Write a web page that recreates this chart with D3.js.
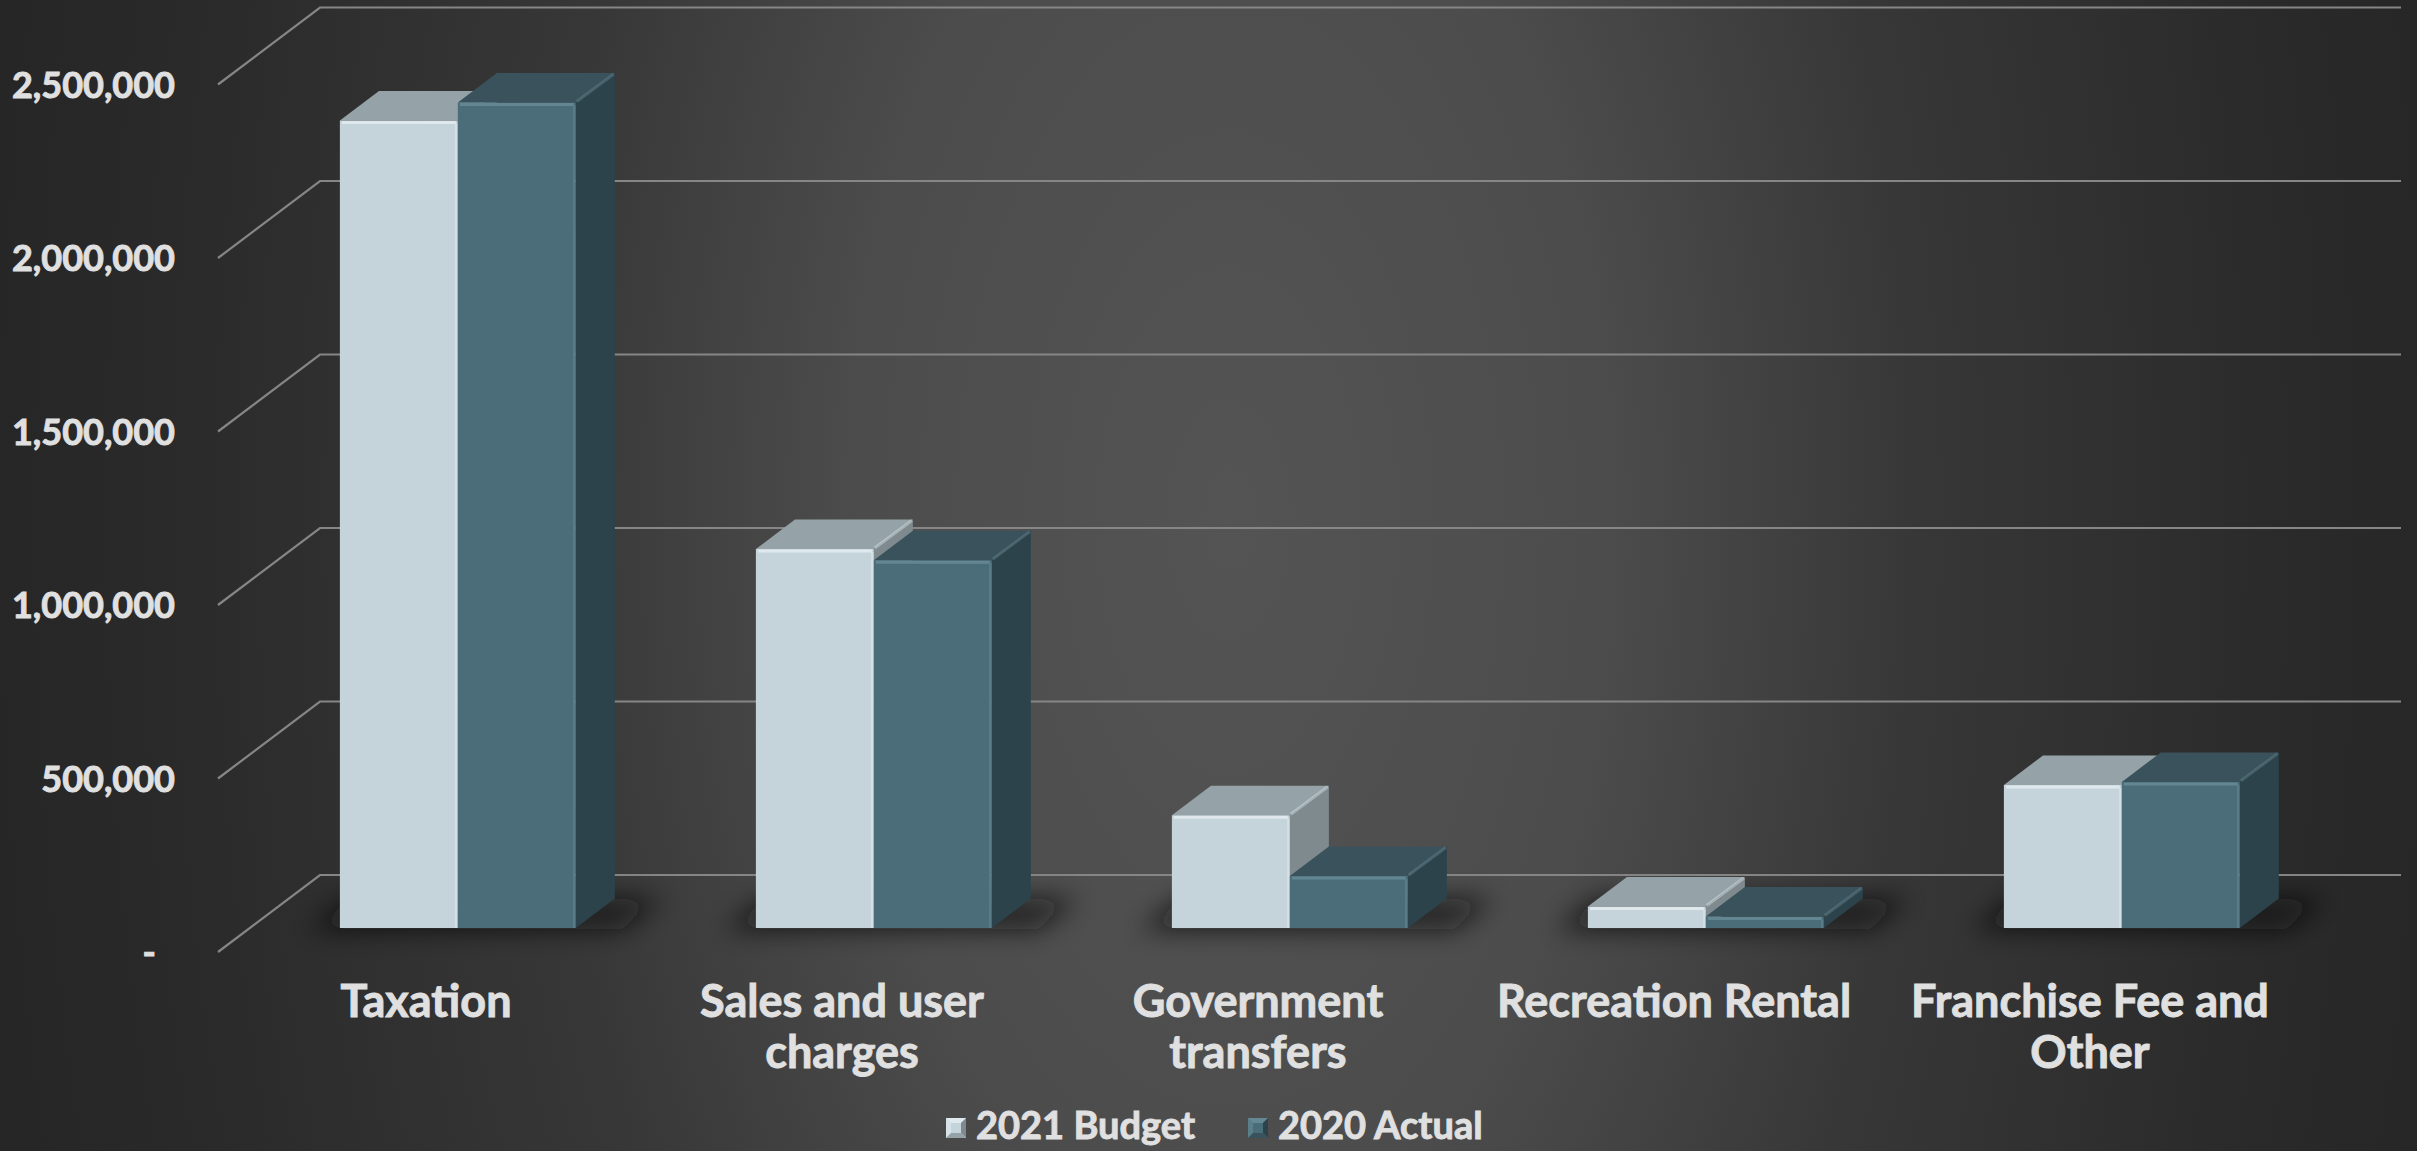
<!DOCTYPE html>
<html>
<head>
<meta charset="utf-8">
<script src="https://cdn.jsdelivr.net/npm/d3@7"></script>
<style>
  html, body { margin: 0; padding: 0; background: #2a2a2a; overflow: hidden; }
  text { font-family: Lato, "Open Sans", "DejaVu Sans", sans-serif; font-weight: 700; fill: #e0e0e0; stroke: #e0e0e0; stroke-width: 0.9px; }
</style>
</head>
<body>
<svg id="chart" width="2417" height="1151"></svg>
<script>
// ---- data ----
const categories = ["Taxation", "Sales and user charges", "Government transfers", "Recreation Rental", "Franchise Fee and Other"];
const categoryLines = [["Taxation"], ["Sales and user", "charges"], ["Government", "transfers"], ["Recreation Rental"], ["Franchise Fee and", "Other"]];
const seriesNames = ["2021 Budget", "2020 Actual"];
const budget2021 = [2327000, 1092000, 325000, 62000, 412000];
const actual2020 = [2379000, 1060000, 150000, 33000, 421000];
const yTicks = [0, 500000, 1000000, 1500000, 2000000, 2500000];

// ---- layout ----
const W = 2417, H = 1151;
const svg = d3.select("#chart");
const defs = svg.append("defs");

// dark backdrop, lighter toward the middle
const bg = defs.append("radialGradient").attr("id", "bg")
  .attr("gradientUnits", "userSpaceOnUse")
  .attr("cx", 1230).attr("cy", 520).attr("r", 1250)
  .attr("gradientTransform", "translate(1230,520) scale(1,1.9) translate(-1230,-520)");
[[0, "#545454"], [0.3, "#4c4c4c"], [0.55, "#373737"], [0.85, "#2a2a2a"], [1, "#262626"]]
  .forEach(([o, c]) => bg.append("stop").attr("offset", o).attr("stop-color", c));
svg.append("rect").attr("width", W).attr("height", H).attr("fill", "url(#bg)");

const blur = defs.append("filter").attr("id", "soft").attr("x", "-50%").attr("y", "-200%").attr("width", "200%").attr("height", "500%");
blur.append("feGaussianBlur").attr("stdDeviation", 13);

// oblique 3-D projection: a point on the back wall pulled toward the viewer by fraction f
const DEPTH_X = -102, DEPTH_Y = 77;
const proj = (x, y, f) => [x + DEPTH_X * f, y + DEPTH_Y * f];
const F_BACK = 0.305, F_FRONT = 0.688;

const x0 = d3.scaleBand().domain(categories).range([320, 2400]).paddingInner(0.433).paddingOuter(0.2165);
const x1 = d3.scaleBand().domain(seriesNames).range([0, x0.bandwidth()]);
const y = d3.scaleLinear().domain([0, 2500000]).range([875, 7.5]);
const yFront = y.copy().range(y.range().map(v => v + DEPTH_Y));

// ---- gridlines: back wall plus the floor-side diagonals ----
const grid = svg.append("g").attr("fill", "none").attr("stroke", "#868686").attr("stroke-width", 2.2);
yTicks.forEach(t => {
  const a = proj(320, y(t), 1);
  grid.append("path").attr("d", `M${a[0]},${a[1]}L320,${y(t)}L2401,${y(t)}`);
});

// ---- y axis labels at the front edge ----
const fmt = d3.format(",");
const yAxis = d3.axisLeft(yFront).tickValues(yTicks).tickSize(0).tickPadding(0)
  .tickFormat(d => d === 0 ? "-" : fmt(d));
const axisG = svg.append("g").attr("transform", "translate(175,0)").call(yAxis);
axisG.select(".domain").remove();
axisG.selectAll("text").attr("font-size", 36).attr("fill", "#e0e0e0")
  .attr("font-family", null).attr("dy", "0.36em")
  .filter(d => d === 0).attr("x", -19);

// ---- floor shadows under each group ----
const y0 = y(0);
svg.append("g").attr("filter", "url(#soft)").selectAll("path").data(categories).join("path")
  .attr("d", c => {
    const xa = x0(c) - 30, xb = x0(c) + x0.bandwidth() + 48;
    const pts = [proj(xa, y0, F_FRONT + 0.02), proj(xb, y0, F_FRONT + 0.02), proj(xb, y0, F_BACK), proj(xa, y0, F_BACK)];
    return "M" + pts.join("L") + "Z";
  })
  .attr("fill", "#0b0b0b").attr("opacity", 0.7);

// ---- bars ----
const seriesData = [budget2021, actual2020];
const palette = [
  { front: "#c5d4db", top: "#95a3a8", side: "#7f8a8f", hi: "#e6eff3" },
  { front: "#4b6d7a", top: "#3a525b", side: "#2d434b", hi: "#6b8f9c" }
];
const poly = pts => "M" + pts.map(p => p.join(",")).join("L") + "Z";
const line = pts => "M" + pts.map(p => p.join(",")).join("L");

const bars = svg.append("g");
categories.forEach((c, i) => {
  seriesNames.forEach((s, j) => {
    const v = seriesData[j][i];
    const col = palette[j];
    const xa = x0(c) + x1(s), xb = xa + x1.bandwidth();
    const y1 = y(v);
    const g = bars.append("g").attr("stroke-linejoin", "round");
    // right side face
    g.append("path").attr("d", poly([proj(xb, y1, F_FRONT), proj(xb, y1, F_BACK), proj(xb, y0, F_BACK), proj(xb, y0, F_FRONT)]))
      .attr("fill", col.side);
    // top face
    g.append("path").attr("d", poly([proj(xa, y1, F_FRONT), proj(xb, y1, F_FRONT), proj(xb, y1, F_BACK), proj(xa, y1, F_BACK)]))
      .attr("fill", col.top);
    // front face
    g.append("path").attr("d", poly([proj(xa, y1, F_FRONT), proj(xb, y1, F_FRONT), proj(xb, y0, F_FRONT), proj(xa, y0, F_FRONT)]))
      .attr("fill", col.front);
    // bevelled edges
    const ftl = proj(xa, y1, F_FRONT), ftr = proj(xb, y1, F_FRONT), fbr = proj(xb, y0, F_FRONT), btr = proj(xb, y1, F_BACK);
    g.append("path").attr("d", line([[ftl[0] + 2, ftl[1] + 2], [ftr[0] - 2, ftr[1] + 2]]))
      .attr("stroke", col.hi).attr("stroke-width", 3).attr("opacity", 0.75).attr("fill", "none");
    g.append("path").attr("d", line([[ftr[0] - 1.5, ftr[1] + 3], [fbr[0] - 1.5, fbr[1]]]))
      .attr("stroke", col.hi).attr("stroke-width", 2.5).attr("opacity", 0.45).attr("fill", "none");
    g.append("path").attr("d", line([[ftr[0] + 1, ftr[1] - 1], [btr[0] - 1, btr[1] + 1]]))
      .attr("stroke", col.hi).attr("stroke-width", 3).attr("opacity", 0.4).attr("fill", "none");
  });
});

// ---- category labels ----
const labels = svg.append("g").attr("text-anchor", "middle").attr("font-size", 45);
categories.forEach((c, i) => {
  const cx = proj(x0(c) + x0.bandwidth() / 2, y0, 1)[0];
  const t = labels.append("text").attr("x", cx).attr("y", 1017);
  categoryLines[i].forEach((ln, k) => {
    t.append("tspan").attr("x", cx).attr("dy", k === 0 ? 0 : 51).text(ln);
  });
});

// ---- legend ----
const legend = svg.append("g").attr("font-size", 38);
const legendX = [946, 1248];
seriesNames.forEach((s, j) => {
  const col = palette[j];
  const lx = legendX[j], ly = 1118, sz = 20, in4 = 5;
  const g = legend.append("g");
  g.append("rect").attr("x", lx).attr("y", ly).attr("width", sz).attr("height", sz).attr("fill", col.front);
  // small bevelled key
  g.append("path").attr("d", poly([[lx, ly], [lx + sz, ly], [lx + sz - in4, ly + in4], [lx + in4, ly + in4]])).attr("fill", col.hi).attr("opacity", 0.8);
  g.append("path").attr("d", poly([[lx, ly], [lx + in4, ly + in4], [lx + in4, ly + sz - in4], [lx, ly + sz]])).attr("fill", col.hi).attr("opacity", 0.5);
  g.append("path").attr("d", poly([[lx + sz, ly], [lx + sz, ly + sz], [lx + sz - in4, ly + sz - in4], [lx + sz - in4, ly + in4]])).attr("fill", col.side);
  g.append("path").attr("d", poly([[lx, ly + sz], [lx + in4, ly + sz - in4], [lx + sz - in4, ly + sz - in4], [lx + sz, ly + sz]])).attr("fill", col.top);
  g.append("text").attr("x", lx + 30).attr("y", 1139).text(s);
});
</script>
</body>
</html>
